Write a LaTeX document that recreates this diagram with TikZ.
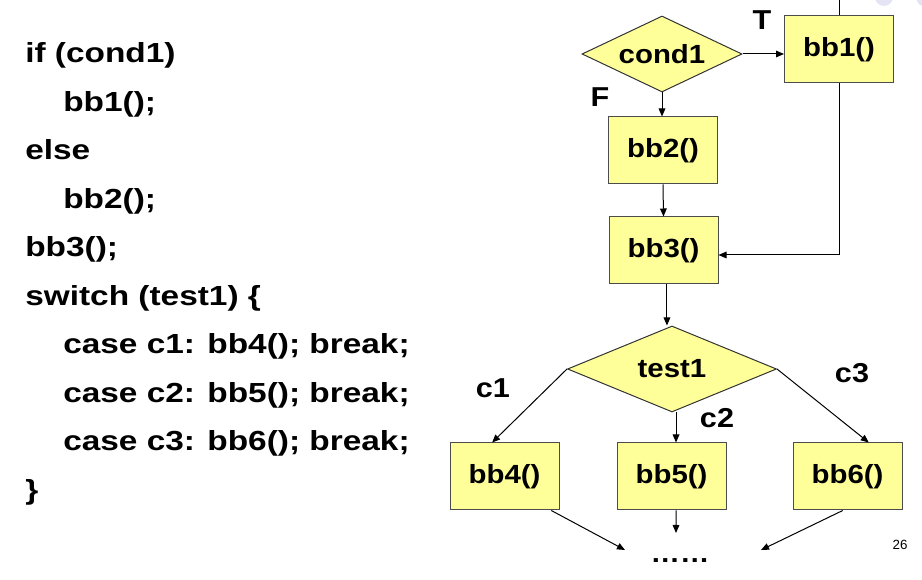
\documentclass[tikz,border=0pt]{standalone}
\usepackage{fontspec}
\setmainfont{Liberation Sans}
\newfontfamily\codefont[FakeStretch=1.21]{Liberation Sans}
\newfontfamily\graphfont[FakeStretch=1.12]{Liberation Sans}
\usetikzlibrary{shapes.geometric,arrows.meta}
\definecolor{yel}{HTML}{FFFF99}
\definecolor{lav}{HTML}{E4E4F4}
\begin{document}
\begin{tikzpicture}[x=0.75pt,y=-0.75pt,
  font=\graphfont\fontsize{19.7}{23}\selectfont\bfseries,
  bbox/.style={draw=black!70, fill=yel, line width=0.75pt, minimum width=81.75pt, minimum height=50.25pt, inner sep=0pt},
  dbox/.style={diamond, draw=black!80, fill=yel, line width=0.75pt, inner sep=0pt, aspect=2},
  arr/.style={-{Triangle[length=6pt,width=5pt]}, line width=0.75pt},
  plain/.style={line width=0.75pt},
  codeline/.style={anchor=base west, inner sep=0pt, font=\codefont\fontsize{20.7}{24}\selectfont\bfseries},
  lbl/.style={inner sep=0pt, font=\graphfont\fontsize{20.5}{24}\selectfont\bfseries}]
\useasboundingbox (0,0) rectangle (922,580);
% faint slide decoration
\fill[lav] (884,-3) circle (9);
\fill[lav] (926,-3) circle (10);
% code
\node[codeline] (l1) at (25,63) {if (cond1)};
\node[codeline] (l2) at (63,111.5) {bb1();};
\node[codeline] (l3) at (25,160) {else};
\node[codeline] (l4) at (63,208.5) {bb2();};
\node[codeline] (l5) at (25,257) {bb3();};
\node[codeline] (l6) at (25,305.5) {switch (test1) \{};
\node[codeline] (l7) at (63,354) {case c1: bb4(); break;};
\node[codeline] (l8) at (63,402.5) {case c2: bb5(); break;};
\node[codeline] (l9) at (63,451) {case c3: bb6(); break;};
\node[codeline] (l10) at (25,499.5) {\}};
% flow graph
\node[dbox, minimum width=120pt, minimum height=57pt] (cond1) at (662,54) {cond1};
\node[bbox] (bb1) at (839,49.5) {bb1()};
\node[bbox] (bb2) at (663,150.5) {bb2()};
\node[bbox] (bb3) at (663.5,250.5) {bb3()};
\node[dbox, minimum width=156.75pt, minimum height=64.5pt] (test1) at (672,369) {test1};
\node[bbox] (bb4) at (504.5,476.5) {bb4()};
\node[bbox] (bb5) at (671.5,476.5) {bb5()};
\node[bbox] (bb6) at (847.5,476.5) {bb6()};
\node[anchor=base, inner sep=0pt] (dots) at (680,563) {……};
% labels
\node[lbl] (T) at (762,20) {T};
\node[lbl] (F) at (600,97) {F};
\node[lbl] (c1) at (493,388) {c1};
\node[lbl] (c2) at (717,418) {c2};
\node[lbl] (c3) at (852,373) {c3};
\node[inner sep=0pt, font=\fontsize{10}{12}\selectfont] (pg) at (900,545) {26};
% coordinates
\coordinate (top) at (838,0);
\coordinate (ret) at (838,255);
\coordinate (e4) at (625,550);
\coordinate (e5) at (676,533);
\coordinate (e6) at (761,550);
% connectors
\draw[arr] (cond1.east) -- (bb1.west |- cond1.east);
\draw[arr] (cond1.south) -- (cond1.south |- bb2.north);
\draw[arr] (bb2.south) -- (bb3.north);
\draw[plain] (bb1.north) -- (bb1.north |- top);
\draw[arr] (bb1.south) -- (bb1.south |- ret) -- (bb3.east |- ret);
\draw[arr] ([xshift=2.6pt]bb3.south) -- ([xshift=2.6pt]bb3.south |- test1.north);
\draw[arr] (test1.west) -- (bb4.110);
\draw[arr] ([xshift=3.4pt]bb5.north |- test1.south) -- ([xshift=3.4pt]bb5.north);
\draw[arr] (test1.east) -- (bb6.58);
\draw[arr] (bb4.-36) -- (e4);
\draw[arr] ([xshift=3.4pt]bb5.south) -- (e5);
\draw[arr] (bb6.-98) -- (e6);
\end{tikzpicture}
\end{document}
